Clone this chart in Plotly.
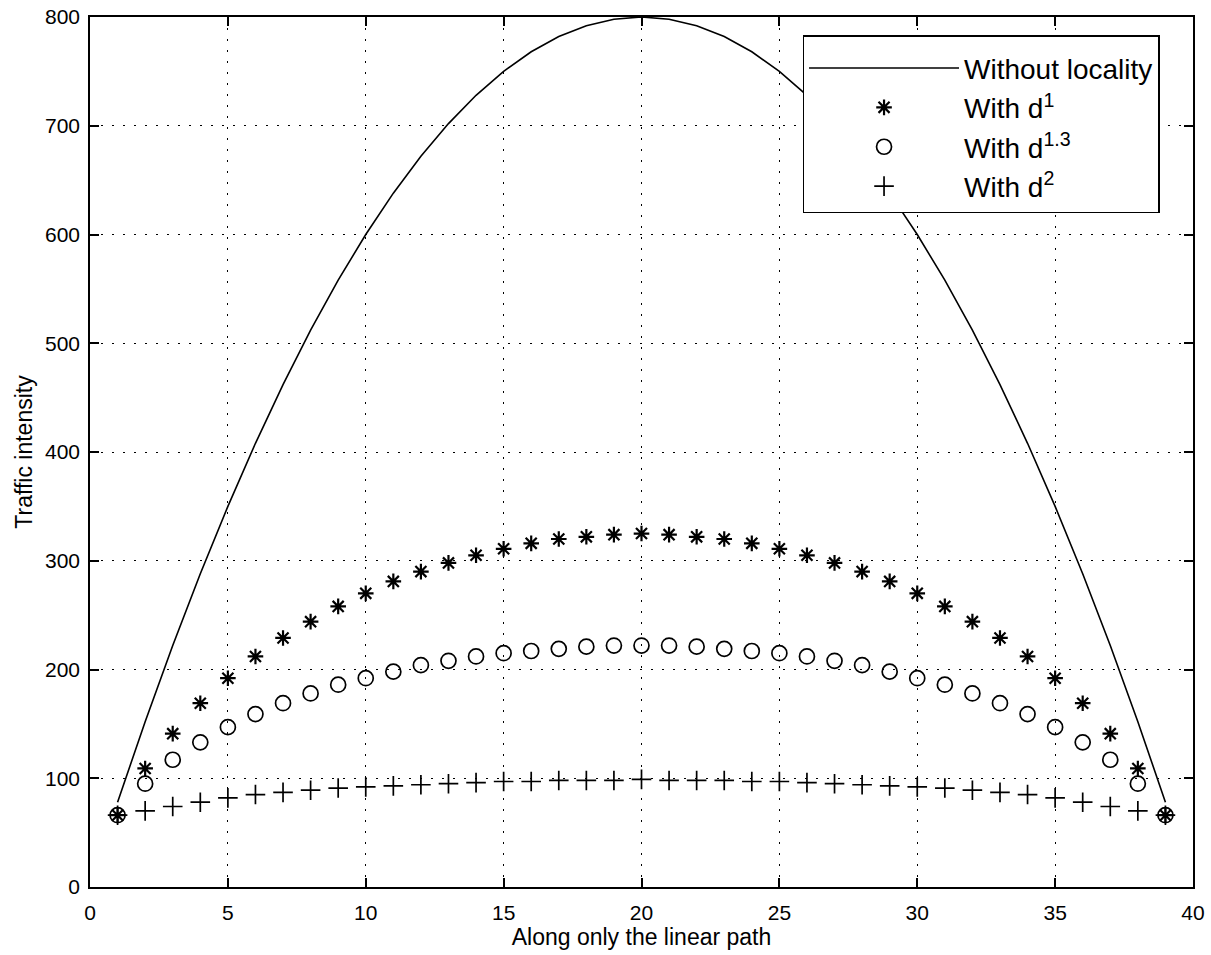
import plotly.graph_objects as go

# Node positions along the linear path
nodes = list(range(1, 40))

# Traffic intensity without locality (solid line)
without_locality = [78, 152, 222, 288, 350, 408, 462, 512, 558, 600,
                    638, 672, 702, 728, 750, 768, 782, 792, 798, 800,
                    798, 792, 782, 768, 750, 728, 702, 672, 638, 600,
                    558, 512, 462, 408, 350, 288, 222, 152, 78]

# With d^1 (asterisks)
with_d1 = [66, 109, 141, 169, 192, 212, 229, 244, 258, 270,
           281, 290, 298, 305, 311, 316, 320, 322, 324, 325,
           324, 322, 320, 316, 311, 305, 298, 290, 281, 270,
           258, 244, 229, 212, 192, 169, 141, 109, 66]

# With d^1.3 (circles)
with_d13 = [66, 95, 117, 133, 147, 159, 169, 178, 186, 192,
            198, 204, 208, 212, 215, 217, 219, 221, 222, 222,
            222, 221, 219, 217, 215, 212, 208, 204, 198, 192,
            186, 178, 169, 159, 147, 133, 117, 95, 66]

# With d^2 (plus signs)
with_d2 = [66, 70, 74, 78, 82, 85, 87, 89, 91, 92,
           93, 94, 95, 96, 97, 97, 98, 98, 98, 99,
           98, 98, 98, 97, 97, 96, 95, 94, 93, 92,
           91, 89, 87, 85, 82, 78, 74, 70, 66]

x_ticks = [0, 5, 10, 15, 20, 25, 30, 35, 40]
y_ticks = [0, 100, 200, 300, 400, 500, 600, 700, 800]

FONT = "Liberation Sans, Arial, Helvetica, sans-serif"

fig = go.Figure()
fig.add_trace(go.Scatter(x=nodes, y=without_locality, mode="lines",
                         name="Without locality",
                         line=dict(color="black", width=1.6)))
fig.add_trace(go.Scatter(x=nodes, y=with_d1, mode="markers",
                         name="With d<sup>1</sup>",
                         marker=dict(symbol="asterisk-open", size=13, color="black",
                                     line=dict(color="black", width=2.2))))
fig.add_trace(go.Scatter(x=nodes, y=with_d13, mode="markers",
                         name="With d<sup>1.3</sup>",
                         marker=dict(symbol="circle-open", size=15, color="black",
                                     line=dict(color="black", width=1.7))))
fig.add_trace(go.Scatter(x=nodes, y=with_d2, mode="markers",
                         name="With d<sup>2</sup>",
                         marker=dict(symbol="cross-thin-open", size=14, color="black",
                                     line=dict(color="black", width=1.7))))

axis_common = dict(
    showline=True, linecolor="black", linewidth=1.5, mirror="ticks",
    ticks="inside", ticklen=9, tickwidth=1.5, tickcolor="black",
    showgrid=True, gridcolor="black", gridwidth=1, griddash="2px,9px",
    zeroline=False, automargin=False,
    tickfont=dict(family=FONT, size=21, color="black"),
)

fig.update_layout(
    width=1211, height=955,
    margin=dict(l=90, r=18, t=17, b=68),
    paper_bgcolor="white", plot_bgcolor="white",
    font=dict(family=FONT, color="black"),
    xaxis=dict(range=[0, 40], tickvals=x_ticks, ticklabelstandoff=6,
               title=dict(text="Along only the linear path",
                          font=dict(family=FONT, size=23), standoff=4),
               **axis_common),
    yaxis=dict(range=[0, 800], tickvals=y_ticks, ticklabelstandoff=4,
               title=dict(text="Traffic intensity",
                          font=dict(family=FONT, size=23), standoff=6),
               **axis_common),
    legend=dict(x=0.646, y=0.979, xanchor="left", yanchor="top",
                bgcolor="white", bordercolor="black", borderwidth=1.5,
                font=dict(family=FONT, size=28, color="black"),
                title=dict(text="&nbsp;", font=dict(size=5)),
                itemwidth=150, tracegroupgap=0),
    showlegend=True,
)

fig.write_html("out.html", config={"displayModeBar": False},
               post_script="document.body.style.margin='0';")
